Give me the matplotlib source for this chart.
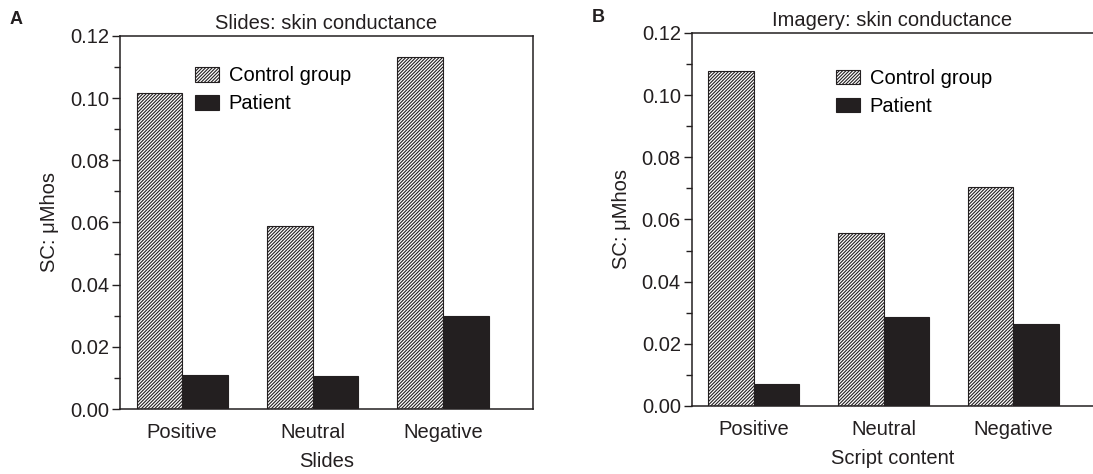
import matplotlib.pyplot as plt
from matplotlib.ticker import MultipleLocator

plt.rcParams['font.family'] = ['Liberation Sans', 'DejaVu Sans']
plt.rcParams['hatch.linewidth'] = 0.8

categories = ['Positive', 'Neutral', 'Negative']
series = ['Control group', 'Patient']

slides_control = [0.1015, 0.0588, 0.1132]
slides_patient = [0.0108, 0.0105, 0.0298]

imagery_control = [0.1078, 0.0558, 0.0703]
imagery_patient = [0.0070, 0.0286, 0.0264]

ink = '#231f20'


def draw_panel(ax, control, patient, title, xlabel, legend_xy, right_lim):
    x = range(len(categories))
    w = 0.35
    ax.bar([i - w / 2 for i in x], control, width=w, color='white',
           edgecolor=ink, hatch='//////////', linewidth=0.8, label=series[0])
    ax.bar([i + w / 2 for i in x], patient, width=w, color=ink,
           edgecolor=ink, linewidth=0.8, label=series[1])
    ax.set_xlim(-0.477, right_lim)
    ax.set_ylim(0, 0.12)
    ax.yaxis.set_major_locator(MultipleLocator(0.02))
    ax.yaxis.set_minor_locator(MultipleLocator(0.01))
    ax.yaxis.set_major_formatter(plt.FuncFormatter(lambda v, p: f'{v:.2f}'))
    ax.set_xticks(list(x))
    ax.set_xticklabels(categories)
    ax.tick_params(axis='x', length=0, labelsize=14.5, pad=10, colors=ink)
    ax.tick_params(axis='y', which='major', length=6, width=1, labelsize=14.5,
                   direction='out', colors=ink, pad=2)
    ax.tick_params(axis='y', which='minor', length=4, width=1,
                   direction='out', colors=ink)
    for s in ax.spines.values():
        s.set_color(ink)
        s.set_linewidth(1.1)
    ax.set_title(title, fontsize=14.5, color=ink, pad=5)
    ax.set_xlabel(xlabel, fontsize=14.5, color=ink, labelpad=7)
    ax.set_ylabel('SC: \u03bcMhos', fontsize=14.5, color=ink, labelpad=8)
    ax.legend(loc='upper left', bbox_to_anchor=legend_xy, frameon=False,
              fontsize=14.5, handlelength=1.15, handleheight=0.75,
              handletextpad=0.5, labelspacing=0.45, borderaxespad=0)


fig = plt.figure(figsize=(10.93, 4.74), dpi=100)
ax1 = fig.add_axes([0.1098, 0.1371, 0.3779, 0.787])
ax2 = fig.add_axes([0.6331, 0.1435, 0.3669, 0.787])

draw_panel(ax1, slides_control, slides_patient, 'Slides: skin conductance',
           'Slides', (0.163, 0.94), 2.69)
draw_panel(ax2, imagery_control, imagery_patient, 'Imagery: skin conductance',
           'Script content', (0.34, 0.925), 2.615)
ax2.spines['right'].set_visible(False)

fig.text(0.009, 0.958, 'A', fontsize=13, fontweight='bold', color=ink, va='center')
fig.text(0.541, 0.963, 'B', fontsize=13, fontweight='bold', color=ink, va='center')

fig.savefig('out.png', dpi=100)
